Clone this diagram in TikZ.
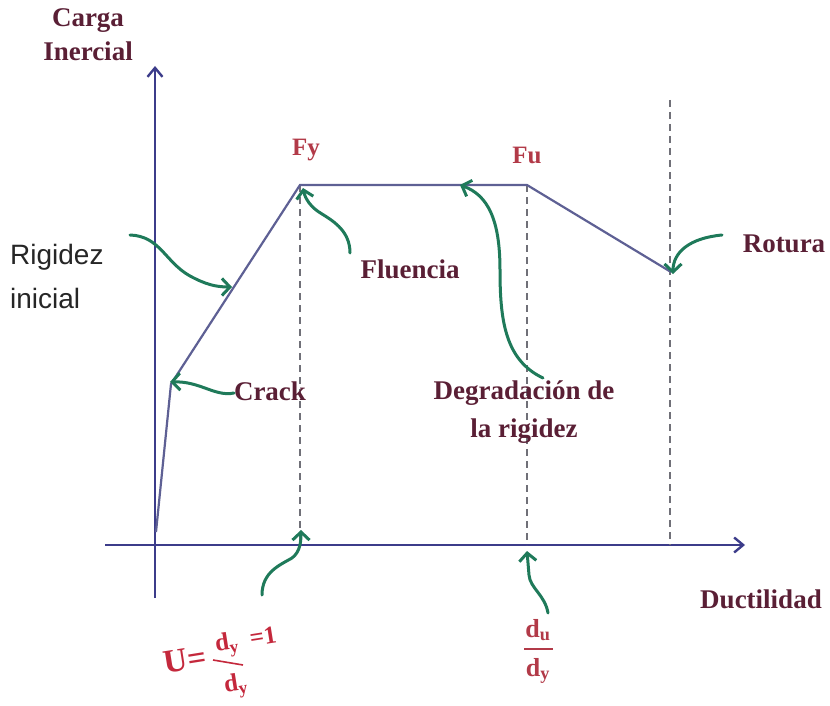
\documentclass[tikz,border=0pt]{standalone}
\usepackage{fontspec}
\setmainfont{Liberation Serif}
\newfontfamily\sansf{Liberation Sans}
\usetikzlibrary{arrows.meta}
\definecolor{axisc}{HTML}{3C3C8A}
\definecolor{curvec}{HTML}{5E6094}
\definecolor{dashc}{HTML}{707078}
\definecolor{greenc}{HTML}{1F7A5A}
\definecolor{maroonc}{HTML}{5A1F35}
\definecolor{redc}{HTML}{B23A48}
\definecolor{redu}{HTML}{C4283C}
\begin{document}
\begin{tikzpicture}[x=1pt,y=-1pt,
  axisline/.style={draw=axisc,line width=2.4pt,-{Straight Barb[length=9pt,width=15pt,line width=2.4pt]}},
  curveline/.style={draw=curvec,line width=2.2pt,line join=miter},
  dashline/.style={draw=dashc,line width=1.8pt,dash pattern=on 7pt off 5pt},
  callout/.style={draw=greenc,line width=3pt,line cap=round,-{Straight Barb[length=8pt,width=17pt,line width=3pt]}},
  lab/.style={text=maroonc,font=\bfseries\fontsize{27}{30}\selectfont,inner sep=0pt},
  flab/.style={text=redc,font=\bfseries\fontsize{25}{28}\selectfont,inner sep=0pt},
  ulab/.style={text=redu,font=\bfseries\fontsize{25}{26}\selectfont,inner sep=0pt,rotate=9},
  slab/.style={text=black!85,font=\sansf\fontsize{28}{30}\selectfont,inner sep=0pt,anchor=west}]
\useasboundingbox (0,0) rectangle (830,706);
% axes
\coordinate (yb) at (155,598);
\coordinate (yt) at (155,66);
\coordinate (xl) at (105,545);
\coordinate (xr) at (745,545);
\draw[axisline] (yb) -- (yt);
\draw[axisline] (xl) -- (xr);
% curve points
\coordinate (p0) at (156,532);
\coordinate (pc) at (171,384);
\coordinate (py) at (300,185);
\coordinate (pu) at (527,185);
\coordinate (pr) at (671,272);
% dashed verticals
\coordinate (dy0) at (300,545);
\coordinate (du0) at (527,545);
\coordinate (dr0) at (670,545);
\coordinate (drt) at (670,100);
\draw[dashline] (py) -- (dy0);
\draw[dashline] (pu) -- (du0);
\draw[dashline] (drt) -- (dr0);
\draw[curveline] (p0) -- (pc) -- (py) -- (pu) -- (pr);
% labels
\node[lab] (carga) at (88,21) {Carga};
\node[lab] (inercial) at (88,51) {Inercial};
\node[flab] (fy) at (306,150) {Fy};
\node[flab] (fu) at (527,155) {Fu};
\node[lab] (fluencia) at (410,269) {Fluencia};
\node[lab] (rotura) at (784,244) {Rotura};
\node[lab] (crack) at (270,391) {Crack};
\node[lab] (degr1) at (524,393) {Degradación de};
\node[lab] (degr2) at (524,431) {la rigidez};
\node[slab] (rig1) at (10,257) {Rigidez};
\node[slab] (rig2) at (10,298) {inicial};
\node[lab] (duct) at (761,599) {Ductilidad};
% U = dy/dy = 1 (tilted)
\node[ulab,font=\bfseries\fontsize{33}{33}\selectfont] (ueq) at (185,660) {U=};
\node[ulab] (unum) at (227,645) {d\textsubscript{y}};
\node[ulab] (uone) at (263,636) {=1};
\node[ulab] (uden) at (236,686) {d\textsubscript{y}};
\coordinate (ul1) at (213,660);
\coordinate (ul2) at (243,665);
\draw[redu,line width=1.6pt] (ul1) -- (ul2);
% du/dy
\node[flab,font=\bfseries\fontsize{26}{28}\selectfont] (dunum) at (538,630) {d\textsubscript{u}};
\node[flab,font=\bfseries\fontsize{26}{28}\selectfont] (duden) at (538,671) {d\textsubscript{y}};
\coordinate (dl1) at (524,649);
\coordinate (dl2) at (553,649);
\draw[redc,line width=1.5pt] (dl1) -- (dl2);
% callout start/end points
\coordinate (sRig) at (130,235);
\coordinate (tRig) at (232,287);
\coordinate (sCr) at (234,393);
\coordinate (tCr) at (170,382);
\coordinate (sFl) at (350,253);
\coordinate (tFl) at (303,188);
\coordinate (sDg) at (543,378);
\coordinate (tDg) at (460,185);
\coordinate (sRo) at (722,235);
\coordinate (tRo) at (673,274);
\coordinate (sDy) at (262,595);
\coordinate (tDy) at (301,530);
\coordinate (sDu) at (548,613);
\coordinate (tDu) at (527,551);
% callouts
\draw[callout] (sRig) .. controls (160,236) and (165,262) .. (190,276) .. controls (205,284) and (215,287) .. (tRig);
\draw[callout] (sCr) .. controls (215,397) and (200,381) .. (tCr);
\draw[callout] (sFl) .. controls (350,232) and (335,222) .. (322,214) .. controls (310,207) and (305,198) .. (tFl);
\draw[callout] (sDg) .. controls (505,360) and (500,320) .. (500,270) .. controls (500,220) and (488,195) .. (tDg);
\draw[callout] (sRo) .. controls (690,238) and (673,252) .. (tRo);
\draw[callout] (sDy) .. controls (262,572) and (280,565) .. (292,558) .. controls (300,552) and (301,542) .. (tDy);
\draw[callout] (sDu) .. controls (545,595) and (530,588) .. (529,575) -- (tDu);
\end{tikzpicture}
\end{document}
